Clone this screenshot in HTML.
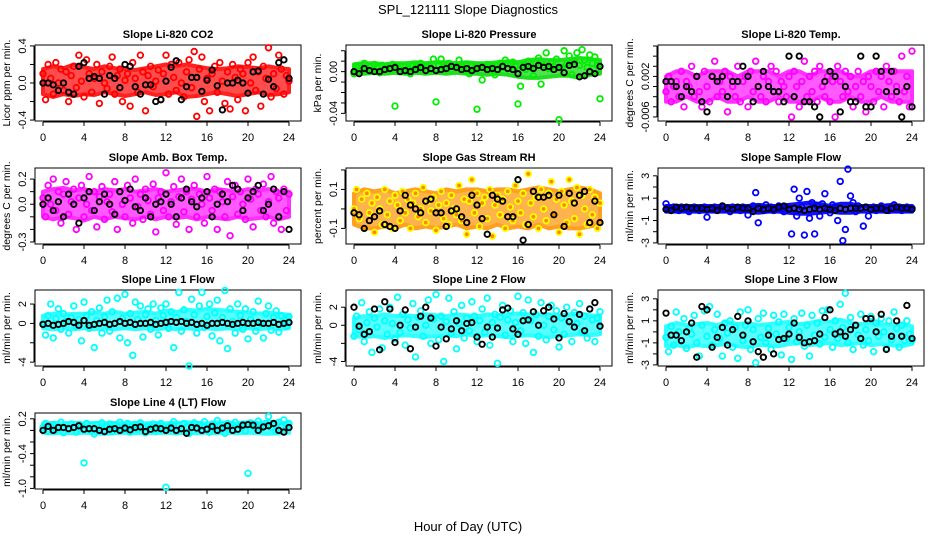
<!DOCTYPE html>
<html><head><meta charset="utf-8">
<style>
body{margin:0;background:#fff;}
svg{display:block;font-family:"Liberation Sans",sans-serif;}
</style></head>
<body>
<svg id="chart" width="936" height="540" viewBox="0 0 936 540">
<text x="468" y="14" font-size="13" text-anchor="middle">SPL_121111  Slope Diagnostics</text>
<text x="468" y="531" font-size="13" text-anchor="middle">Hour of Day (UTC)</text>
</svg>
<script>
const xTicks = [0,4,8,12,16,20,24];
const titles = ["Slope Li-820 CO2","Slope Li-820 Pressure","Slope Li-820 Temp.","Slope Amb. Box Temp.","Slope Gas Stream RH","Slope Sample Flow","Slope Line 1 Flow","Slope Line 2 Flow","Slope Line 3 Flow","Slope Line 4 (LT) Flow"];
const yTitles = ["Licor ppm per min.","kPa per min.","degrees C per min.","degrees C per min.","percent per min.","ml/min per min.","ml/min per min.","ml/min per min.","ml/min per min.","ml/min per min."];
const yDomains = [[-0.41,0.41],[-0.0473,0.0255],[-0.0068,0.0082],[-0.316,0.288],[-0.18,0.21],[-3.1,3.7],[-4.4,3.45],[-4.5,3.9],[-3.1,3.8],[-1.01,0.3]];
const yTickVals = [[-0.4,-0.2,0,0.2,0.4],[-0.04,-0.03,-0.02,-0.01,0,0.01,0.02],[-0.006,-0.004,-0.002,0,0.002,0.004,0.006,0.008],[-0.3,-0.2,-0.1,0,0.1,0.2],[-0.1,0,0.1,0.2],[-3,-2,-1,0,1,2,3],[-4,-2,0,2],[-4,-2,0,2],[-3,-2,-1,0,1,2,3],[-1,-0.8,-0.6,-0.4,-0.2,0,0.2]];
const yTickLabels = [["-0.4","","0.0","","0.4"],["-0.04","","","","0.00","",""],["-0.006","","","","0.002","","",""],["-0.3","","","0.0","","0.2"],["-0.1","","0.1",""],["-3","","-1","","1","","3"],["-4","","0","2"],["-4","","0","2"],["-3","","-1","","1","","3"],["-1.0","","","-0.4","","","0.2"]];
const colors = ["#ff0000","#00ee00","#ff00ff","#ff00ff","#ffff00","#0000ff","#00ffff","#00ffff","#00ffff","#00ffff"];
const fills = ["none","none","none","none","#ff8800","none","none","none","none","none"];
const bandColors = ["#ff2020","#22dd22","#ff30ff","#ff30ff","#ffa020","#1010ff","#30ffff","#30ffff","#30ffff","#30ffff"];

const lo1 = [-0.12,-0.15,-0.12,-0.14,-0.12,-0.13,-0.1,-0.12,-0.14,-0.12,-0.1,-0.13,-0.12,-0.1,-0.15,-0.14,-0.12,-0.1,-0.12,-0.14,-0.12,-0.1,-0.13,-0.12,-0.1];
const hi1 = [0.15,0.18,0.16,0.2,0.17,0.15,0.18,0.16,0.15,0.14,0.16,0.18,0.2,0.18,0.2,0.18,0.16,0.15,0.16,0.18,0.17,0.16,0.18,0.16,0.15];
const lo2 = [-0.002,-0.002,-0.001,-0.002,-0.001,-0.002,-0.001,-0.002,-0.001,-0.002,-0.001,-0.002,-0.002,-0.003,-0.002,-0.003,-0.005,-0.006,-0.006,-0.005,-0.004,-0.004,-0.006,-0.003,-0.002];
const hi2 = [0.007,0.008,0.008,0.007,0.008,0.008,0.009,0.008,0.009,0.009,0.008,0.009,0.008,0.008,0.009,0.01,0.009,0.011,0.012,0.011,0.011,0.012,0.013,0.012,0.011];
const lo3 = [-0.003,-0.003,-0.002,-0.003,-0.003,-0.002,-0.003,-0.003,-0.002,-0.003,-0.003,-0.002,-0.003,-0.003,-0.003,-0.002,-0.003,-0.003,-0.002,-0.003,-0.003,-0.002,-0.003,-0.003,-0.003];
const hi3 = [0.002,0.003,0.003,0.002,0.003,0.003,0.003,0.002,0.003,0.003,0.003,0.002,0.003,0.003,0.002,0.003,0.003,0.003,0.002,0.002,0.003,0.003,0.003,0.003,0.003];
const lo4 = [-0.1,-0.12,-0.1,-0.11,-0.13,-0.1,-0.12,-0.1,-0.11,-0.12,-0.1,-0.12,-0.1,-0.11,-0.1,-0.12,-0.1,-0.11,-0.12,-0.1,-0.12,-0.11,-0.1,-0.12,-0.1];
const hi4 = [0.1,0.12,0.13,0.11,0.12,0.1,0.12,0.11,0.12,0.1,0.11,0.12,0.1,0.11,0.12,0.12,0.1,0.12,0.11,0.1,0.12,0.11,0.12,0.1,0.1];
const lo5 = [-0.08,-0.1,-0.1,-0.09,-0.1,-0.08,-0.1,-0.09,-0.1,-0.09,-0.08,-0.1,-0.09,-0.1,-0.08,-0.1,-0.09,-0.1,-0.08,-0.1,-0.09,-0.1,-0.1,-0.09,-0.08];
const hi5 = [0.08,0.1,0.09,0.1,0.08,0.09,0.1,0.09,0.08,0.1,0.09,0.1,0.1,0.09,0.1,0.1,0.09,0.1,0.11,0.1,0.09,0.1,0.11,0.1,0.08];
const lo6 = [-0.2,-0.2,-0.2,-0.2,-0.2,-0.2,-0.2,-0.2,-0.2,-0.3,-0.2,-0.2,-0.3,-0.4,-0.4,-0.3,-0.2,-0.3,-0.3,-0.2,-0.2,-0.2,-0.2,-0.2,-0.2];
const hi6 = [0.3,0.3,0.3,0.3,0.3,0.3,0.3,0.3,0.3,0.4,0.3,0.3,0.4,0.5,0.6,0.5,0.3,0.5,0.5,0.3,0.3,0.3,0.4,0.3,0.3];
const lo7 = [-0.5,-0.6,-0.5,-0.6,-0.5,-0.6,-0.5,-0.6,-0.5,-0.6,-0.5,-0.6,-0.5,-0.6,-0.5,-0.6,-0.5,-0.6,-0.5,-0.6,-0.5,-0.6,-0.5,-0.6,-0.5];
const hi7 = [0.8,1.0,0.9,1.0,1.0,1.1,1.0,1.2,1.0,1.1,1.2,1.0,1.3,1.2,1.4,1.3,1.5,1.4,1.3,1.2,1.1,1.0,1.1,1.0,0.9];
const lo8 = [-1.2,-1.3,-1.2,-1.4,-1.2,-1.1,-1.2,-1.3,-1.2,-1.1,-1.2,-1.0,-1.2,-1.1,-1.2,-1.3,-1.2,-1.1,-1.2,-1.3,-1.2,-1.1,-1.0,-1.1,-1.0];
const hi8 = [0.8,1.0,1.0,1.2,1.0,1.1,1.0,1.2,1.1,1.0,1.2,1.1,1.0,1.2,1.1,1.2,1.3,1.2,1.1,1.2,1.1,1.2,1.3,1.1,1.0];
const lo9 = [-1.3,-1.2,-1.4,-1.2,-1.3,-1.2,-1.1,-1.3,-1.4,-1.2,-1.2,-1.3,-1.1,-1.0,-1.2,-1.1,-1.0,-1.2,-1.1,-1.0,-1.2,-1.1,-1.2,-1.3,-1.1];
const hi9 = [0.5,0.8,0.6,0.7,0.8,0.6,0.9,0.7,0.8,0.6,0.7,0.8,0.9,0.7,0.8,1.0,0.9,1.1,0.8,0.7,0.8,0.7,0.6,0.7,0.5];
const lo10 = [-0.04,-0.05,-0.04,-0.05,-0.04,-0.05,-0.06,-0.05,-0.04,-0.05,-0.04,-0.05,-0.04,-0.05,-0.04,-0.05,-0.04,-0.05,-0.04,-0.05,-0.04,-0.05,-0.06,-0.05,-0.04];
const hi10 = [0.12,0.13,0.12,0.13,0.12,0.13,0.12,0.13,0.12,0.13,0.12,0.13,0.12,0.13,0.14,0.13,0.12,0.14,0.13,0.12,0.14,0.13,0.15,0.14,0.12];
const bandLo = [lo1,lo2,lo3,lo4,lo5,lo6,lo7,lo8,lo9,lo10];
const bandHi = [hi1,hi2,hi3,hi4,hi5,hi6,hi7,hi8,hi9,hi10];

const c1 = [0.1,-0.18,0.2,0.05,-0.12,0.22,0.0,0.15,-0.08,0.12,-0.2,0.08,0.18,-0.05,0.3,0.02,-0.15,0.25,0.1,-0.1,0.05,0.2,-0.22,0.12,0.0,-0.06,0.18,0.28,-0.12,0.08,0.15,-0.2,0.03,0.1,-0.25,0.22,0.05,-0.1,0.3,0.12,-0.3,0.08,0.18,-0.04,0.02,0.14,-0.18,0.1,0.3,-0.12,0.2,0.06,-0.08,0.22,0.0,-0.15,0.12,0.25,-0.05,0.34,-0.36,0.15,0.28,-0.2,0.05,-0.3,0.1,0.18,-0.1,0.22,0.02,-0.22,0.12,-0.28,0.2,0.06,-0.18,0.15,0.1,-0.3,0.22,0.0,0.28,-0.08,0.12,-0.25,0.18,0.05,0.38,-0.15,0.1,-0.06,0.3,0.15,-0.12,0.08,0.02];
const b1 = [0.0,0.0,-0.02,-0.08,0.0,-0.1,-0.12,0.18,0.22,0.05,0.07,0.05,-0.12,0.08,0.05,-0.05,0.2,0.18,-0.04,-0.12,-0.02,-0.02,-0.2,-0.18,0.02,0.17,0.24,-0.18,-0.04,0.06,0.06,-0.09,0.03,0.14,-0.03,-0.29,0.0,0.0,0.03,0.0,-0.11,0.12,0.13,-0.12,0.04,-0.04,0.22,0.25,0.05];
const c2 = [-0.002,0.004,0.006,0.002,0.008,0.003,0.005,0.001,0.007,0.004,-0.001,0.006,0.003,0.005,0.002,0.007,-0.033,0.004,0.006,0.001,0.005,0.003,-0.002,0.006,0.004,0.002,0.008,0.003,0.005,0.006,0.002,0.012,-0.029,0.006,0.012,0.004,0.003,0.008,0.002,0.005,0.006,0.011,0.004,0.001,0.007,-0.002,0.005,0.003,-0.036,0.006,-0.008,0.004,0.007,0.002,0.005,-0.003,0.006,0.008,0.004,0.011,0.003,0.007,0.009,0.005,-0.031,-0.014,0.006,0.002,0.01,0.004,-0.004,0.008,0.013,-0.012,0.006,0.018,0.003,0.009,0.005,0.012,-0.046,0.004,0.02,0.007,0.015,-0.003,0.01,0.018,0.006,0.021,0.011,0.004,0.016,0.008,0.014,0.006,-0.026];
const b2 = [0.0,-0.002,0.003,0.001,0.0,0.0,0.002,0.003,0.004,0.0,0.001,0.0,0.002,0.004,0.001,0.003,0.001,0.002,0.003,0.005,0.004,0.002,0.003,0.001,0.003,0.004,0.002,0.003,0.002,0.005,0.003,0.002,-0.002,0.004,0.005,0.003,0.006,0.004,0.005,0.002,0.004,-0.001,0.006,0.007,-0.005,-0.004,0.0,-0.002,0.005];
const c3 = [-0.001,0.002,-0.003,0.0,0.001,-0.002,0.003,-0.004,0.001,0.0,0.004,-0.002,0.002,-0.001,-0.004,0.003,0.0,-0.003,0.002,0.005,-0.002,0.001,-0.001,0.003,-0.005,0.002,0.0,-0.002,0.004,-0.003,0.001,0.002,-0.004,0.003,-0.001,0.005,0.0,-0.002,0.002,-0.003,0.001,0.004,-0.001,0.003,-0.003,0.001,0.0,-0.002,0.002,-0.006,0.003,0.0,-0.004,0.001,0.005,-0.002,0.002,-0.001,0.003,-0.003,0.004,0.0,-0.002,0.002,-0.003,0.001,-0.006,0.004,0.001,-0.002,0.003,-0.001,0.002,-0.004,0.0,0.003,-0.002,0.001,-0.005,0.002,0.0,-0.003,0.003,-0.001,0.002,-0.004,0.004,0.001,-0.002,0.003,0.0,-0.003,0.006,-0.001,0.002,-0.004,0.007];
const b3 = [0.001,0.001,0.0,-0.002,0.0,-0.001,0.002,-0.003,-0.005,0.002,0.001,0.002,-0.002,0.001,0.001,0.004,0.002,-0.003,0.0,0.003,0.0,-0.001,-0.001,-0.003,0.006,-0.002,0.006,-0.003,-0.003,-0.004,-0.006,0.001,0.003,0.002,-0.005,0.0,-0.003,-0.003,0.006,-0.004,-0.004,0.006,0.003,-0.001,0.003,-0.001,-0.006,0.0,-0.004];
const c4 = [0.05,-0.1,0.15,0.0,0.2,-0.05,0.1,-0.15,0.08,0.18,-0.08,0.02,0.12,-0.2,0.05,0.15,-0.1,0.0,0.22,-0.05,0.1,-0.18,0.06,0.14,-0.12,0.02,0.08,-0.06,0.18,-0.2,0.1,0.0,-0.1,0.15,0.05,-0.15,0.2,-0.02,0.08,-0.12,0.12,0.03,-0.08,0.16,-0.22,0.05,0.1,-0.05,0.25,-0.1,0.02,0.14,-0.16,0.06,0.2,-0.06,0.1,-0.2,0.04,0.15,-0.1,0.08,0.0,-0.15,0.22,0.05,-0.05,0.12,-0.2,0.1,0.02,-0.1,0.18,-0.25,0.06,0.15,-0.08,0.1,0.0,-0.12,0.2,0.04,-0.18,0.12,0.08,-0.05,0.16,-0.1,0.02,0.22,-0.15,0.1,0.05,-0.2,0.12,-0.05,0.08];
const b4 = [0.0,0.05,-0.05,0.02,-0.1,0.08,0.0,-0.15,0.05,0.1,-0.05,0.02,0.08,0.0,-0.08,0.1,0.03,0.12,-0.02,-0.05,0.05,-0.1,0.0,0.02,0.08,0.0,-0.1,0.05,0.12,0.02,-0.02,0.05,0.1,-0.1,0.0,0.08,0.02,0.15,0.12,-0.05,0.05,0.1,0.15,-0.05,0.0,0.12,-0.1,0.1,-0.2];
const c5 = [0.0,0.1,-0.05,0.05,-0.1,0.08,-0.02,0.03,-0.12,0.06,0.0,-0.08,0.1,-0.03,0.04,-0.1,0.07,0.02,-0.06,0.09,-0.02,0.05,-0.1,0.03,0.08,-0.04,0.0,0.11,-0.07,0.04,-0.01,0.06,-0.11,0.02,0.09,-0.05,0.03,-0.08,0.07,0.0,-0.03,0.12,-0.06,0.05,-0.13,0.04,0.15,-0.02,0.08,-0.09,0.03,0.06,-0.05,0.1,-0.14,0.02,0.07,-0.03,0.05,-0.1,0.09,0.01,-0.06,0.12,0.04,-0.02,0.08,-0.08,0.18,0.03,-0.04,0.06,-0.1,0.1,0.0,-0.06,0.08,0.14,-0.03,0.05,-0.12,0.09,0.02,-0.07,0.15,0.04,-0.05,0.11,-0.13,0.07,0.0,-0.08,0.1,-0.03,0.06,-0.1,0.03];
const b5 = [-0.02,-0.03,-0.1,-0.06,-0.04,-0.01,-0.08,-0.09,-0.1,-0.01,0.07,0.02,0.0,-0.02,0.04,0.05,-0.02,-0.02,-0.09,-0.01,0.0,-0.04,-0.07,0.07,0.02,-0.05,-0.13,0.07,0.05,0.04,-0.04,-0.04,0.15,-0.16,-0.08,0.09,0.06,0.06,0.07,-0.03,0.07,-0.09,0.08,0.03,0.07,0.09,-0.07,0.04,-0.07];
const c6 = [0.5,0.1,-0.1,0.2,0.0,-0.1,0.2,0.1,0.0,-0.2,0.1,0.2,0.0,-0.1,0.1,0.2,-0.7,0.1,0.0,0.2,-0.1,0.1,0.3,0.0,0.1,-0.2,0.2,0.0,0.1,-0.1,0.2,0.0,-0.5,0.1,0.3,1.5,-1.2,0.2,-0.1,0.4,0.0,0.2,-0.1,0.1,0.3,0.0,-0.2,0.2,0.1,-2.2,1.8,-0.6,1.0,0.2,-2.3,1.6,-0.8,0.6,-2.2,0.3,-0.6,0.5,1.4,0.0,-0.3,0.4,0.2,-1.0,2.5,-2.8,-1.8,3.6,1.2,0.6,-0.2,0.3,0.1,-1.5,0.2,-0.6,0.0,0.2,-0.1,0.1,0.3,0.0,0.2,-0.1,0.1,0.4,0.0,0.2,-0.1,0.1,0.2,0.0,0.1];
const b6 = [0.0,-0.1,0.2,0.1,0.2,0.1,0.1,0.1,0.0,0.1,-0.1,0.3,0.1,0.0,0.2,0.1,0.1,-0.2,0.1,0.0,0.1,0.0,0.2,0.3,0.0,0.1,0.0,-0.1,0.0,0.1,0.0,0.1,0.0,-0.1,0.1,0.0,0.1,0.1,0.1,0.2,0.0,0.1,0.1,-0.1,0.1,0.2,0.1,0.1,0.0];
const c7 = [0.0,-1.2,0.8,2.0,-1.5,0.5,1.5,-0.6,1.0,0.2,-1.0,0.6,1.8,-0.3,0.4,-1.8,2.2,0.8,-0.5,1.2,-2.5,0.3,1.6,-1.0,0.7,2.4,-0.8,1.2,0.0,2.6,-1.5,0.5,3.0,-2.0,1.0,-3.3,2.2,0.4,1.8,-1.4,0.9,1.5,-0.6,2.0,0.3,-1.2,1.6,0.8,2.0,-0.5,1.2,-2.5,0.6,3.2,-0.8,1.4,0.2,-4.4,2.5,0.9,-1.0,1.8,3.2,-0.4,0.7,2.0,-1.3,1.1,2.4,-1.8,0.6,3.4,-2.6,1.5,0.2,-1.0,2.0,0.8,-0.6,1.5,-1.6,0.4,1.2,-0.8,2.3,0.0,-1.5,1.0,1.8,-0.7,0.6,1.3,-0.9,0.8,0.3,-0.3,0.7];
const b7 = [-0.1,0.0,-0.2,-0.1,0.0,0.2,0.1,-0.2,0.3,-0.2,-0.1,0.0,0.1,-0.1,0.0,0.2,0.0,0.1,-0.1,0.0,0.0,0.1,-0.1,0.0,0.1,0.2,0.1,0.2,0.0,0.1,-0.1,0.0,-0.2,0.0,0.0,0.1,0.0,-0.1,0.0,0.1,0.0,0.0,0.1,0.0,0.0,0.1,-0.1,0.0,0.1];
const c8 = [-1.2,1.0,-0.5,2.5,-1.8,0.3,1.5,-3.0,0.8,-0.2,1.8,-2.5,0.5,-1.0,2.0,0.2,-1.5,3.1,-0.8,1.2,-2.2,0.6,-0.3,2.4,-3.5,0.9,1.6,-1.2,0.0,2.8,-2.0,0.7,3.4,-1.6,1.0,-4.0,0.4,3.0,-0.9,1.5,-2.6,0.2,2.2,-1.4,0.8,-0.6,2.6,1.0,-1.8,0.5,1.8,-0.8,3.0,-2.2,0.3,1.2,-4.2,0.9,2.2,-1.1,0.6,1.6,-1.8,0.3,3.2,-0.6,1.4,-2.0,2.8,0.5,-3.0,1.2,-1.2,2.5,0.0,-1.6,1.0,2.2,-0.5,1.6,-2.4,0.8,-1.0,2.0,0.4,-1.8,1.4,0.2,2.4,-0.8,1.0,-1.4,1.8,0.6,-1.8,0.8,1.5];
const b8 = [2.0,-0.1,-1.0,-0.7,1.8,-2.7,2.6,1.8,-1.9,0.0,1.7,-2.6,-0.2,1.0,2.0,0.8,-2.3,-0.2,-1.5,-0.4,0.5,-0.6,0.2,0.3,-1.3,-2.1,-0.2,-1.3,-0.3,1.7,1.9,-0.4,-1.0,0.5,0.6,1.5,0.0,1.6,2.0,0.7,-1.4,1.3,0.4,-0.2,1.2,-0.6,1.8,2.5,-0.1];
const c9 = [-0.5,-1.8,0.5,-1.2,1.8,0.0,-0.8,1.2,-1.5,0.3,-0.2,1.5,-1.0,-2.2,0.6,1.9,-0.4,2.3,-1.2,0.2,1.6,-0.6,-2.2,0.8,-0.1,1.0,-1.4,0.4,-2.4,1.8,-0.8,0.6,2.0,-1.6,0.2,-2.8,1.2,-0.5,1.7,-1.0,0.3,-1.6,1.5,-0.2,0.9,-2.1,1.6,-0.6,0.4,-2.5,1.2,-0.9,0.0,1.7,-1.3,0.6,-2.2,1.5,-0.3,0.8,-1.1,1.9,-0.5,2.0,0.2,-1.4,1.0,-0.6,2.5,0.4,3.5,-1.0,1.3,-1.6,0.6,-0.3,1.6,-1.2,0.2,-0.8,1.4,-1.8,0.8,-0.4,1.2,0.0,-1.5,1.0,-0.7,1.8,0.3,-1.4,0.6,-0.8,1.0,-0.2,-0.8];
const b9 = [1.7,-0.3,-0.3,-0.8,0.0,0.8,-2.3,2.3,2.0,-1.4,-0.5,0.4,-1.2,0.2,1.4,-0.3,1.0,-0.9,-1.8,-2.3,-0.3,-2.0,-0.7,-0.6,-0.2,0.8,-0.5,-1.0,-0.9,-0.8,-0.2,1.3,2.0,-0.2,0.0,-0.4,0.2,0.6,-0.6,1.2,1.2,0.0,1.6,-1.6,-0.4,1.0,-0.4,2.4,-0.6];
const c10 = [0.05,0.12,-0.02,0.08,0.1,0.0,0.06,0.14,-0.04,0.09,0.03,0.11,0.05,-0.03,0.1,0.07,-0.56,0.12,0.02,0.08,-0.06,0.1,0.04,0.13,0.0,0.07,0.11,-0.02,0.09,0.05,0.14,0.01,0.08,0.12,-0.03,0.06,0.1,0.02,0.13,0.05,-0.04,0.09,0.07,0.11,0.0,0.08,0.12,0.03,-0.98,0.06,0.1,0.15,-0.02,0.08,0.04,0.12,0.06,-0.05,0.09,0.13,0.02,0.1,0.07,0.15,0.04,-0.03,0.11,0.08,0.17,0.0,0.09,-0.05,0.12,0.06,0.1,0.14,0.02,0.08,0.11,-0.01,-0.74,0.13,0.06,0.1,0.16,0.03,0.08,0.12,0.24,0.05,0.1,-0.01,0.14,0.07,0.18,0.04,0.12];
const b10 = [0.0,0.07,0.0,0.05,0.05,0.03,0.05,0.08,0.02,0.03,0.03,0.0,-0.02,0.02,0.03,0.0,0.04,0.01,0.05,0.06,-0.02,0.02,0.04,0.03,0.0,0.04,0.0,0.03,-0.05,0.05,0.04,0.0,0.02,0.07,0.0,0.04,0.08,0.0,0.02,0.09,0.1,0.09,0.0,0.06,0.08,0.12,0.0,-0.03,0.05];
const colorSeries = [c1,c2,c3,c4,c5,c6,c7,c8,c9,c10];
const blackSeries = [b1,b2,b3,b4,b5,b6,b7,b8,b9,b10];

const NS = "http://www.w3.org/2000/svg";
const svg = document.getElementById("chart");
const colLeft = [35,346,658], rowTop = [45,168,290,413], W = 266, H = 76;
function mk(tag, attrs, parent){ const e=document.createElementNS(NS,tag); for(const k in attrs) e.setAttribute(k,attrs[k]); (parent||svg).appendChild(e); return e; }

for(let p=0;p<10;p++){
  const L = colLeft[p%3], T = rowTop[Math.floor(p/3)];
  const g = mk("g",{});
  
  
  const xs = h => L + 8 + h/24*246;
  const [y0,y1] = yDomains[p];
  const ys = v => T + H - (v - y0)/(y1 - y0)*H;
  const lo = bandLo[p], hi = bandHi[p];
  let d = "";
  hi.forEach((v,i)=>{ d += (i?"L":"M") + xs(i*24/(hi.length-1)).toFixed(1) + "," + ys(v).toFixed(1); });
  for(let i=lo.length-1;i>=0;i--){ d += "L" + xs(i*24/(lo.length-1)).toFixed(1) + "," + ys(lo[i]).toFixed(1); }
  const band = mk("path",{d:d+"Z",fill:bandColors[p],"fill-opacity":0.8,stroke:bandColors[p],"stroke-width":4,"stroke-linejoin":"round"},g);
  
  
  const box = mk("rect",{x:L,y:T,width:W,height:H,fill:"none",stroke:"#000","stroke-width":1},g);
  
  
  const t = mk("text",{x:L+W/2,y:T-7,"font-size":11,"font-weight":"bold","text-anchor":"middle"},g);
  t.textContent = titles[p];
  
  
  const xa = mk("g",{},g);
  
  
  mk("line",{x1:xs(0),x2:xs(24),y1:T+H+1,y2:T+H+1,stroke:"#000"},xa);
  xTicks.forEach(v=>{
    mk("line",{x1:xs(v),x2:xs(v),y1:T+H+1,y2:T+H+5,stroke:"#000"},xa);
    const lb = mk("text",{x:xs(v),y:T+H+20,"font-size":11,"text-anchor":"middle"},xa);
    lb.textContent = v;
    
    
  });
  const ya = mk("g",{},g);
  
  
  const tv = yTickVals[p];
  mk("line",{x1:L-1,x2:L-1,y1:ys(tv[0]),y2:ys(tv[tv.length-1]),stroke:"#000"},ya);
  tv.forEach((v,i)=>{
    mk("line",{x1:L-1,x2:L-5,y1:ys(v),y2:ys(v),stroke:"#000"},ya);
    if(yTickLabels[p][i]){
      const lb = mk("text",{x:0,y:0,"font-size":11,"text-anchor":"middle",transform:`translate(${L-9},${ys(v)}) rotate(-90)`},ya);
      lb.textContent = yTickLabels[p][i];
      
      
    }
  });
  const yt = mk("text",{x:0,y:0,"font-size":10.5,"text-anchor":"middle",transform:`translate(${L-25},${T+H/2}) rotate(-90)`},g);
  yt.textContent = yTitles[p];
  
  
  const cs = colorSeries[p];
  const cg = mk("g",{},g);
  
  
  cs.forEach((v,i)=>{
    const c = mk("circle",{cx:xs(i*24/(cs.length-1)),cy:ys(v),r:2.8,fill:fills[p],stroke:colors[p],"stroke-width":1.8},cg);
    
    
  });
  const bs = blackSeries[p];
  const bg = mk("g",{},g);
  
  
  bs.forEach((v,i)=>{
    const c = mk("circle",{cx:xs(i*24/(bs.length-1)),cy:ys(v),r:2.7,fill:"none",stroke:"#000","stroke-width":1.9},bg);
    
    
  });
}
</script>
</body></html>
